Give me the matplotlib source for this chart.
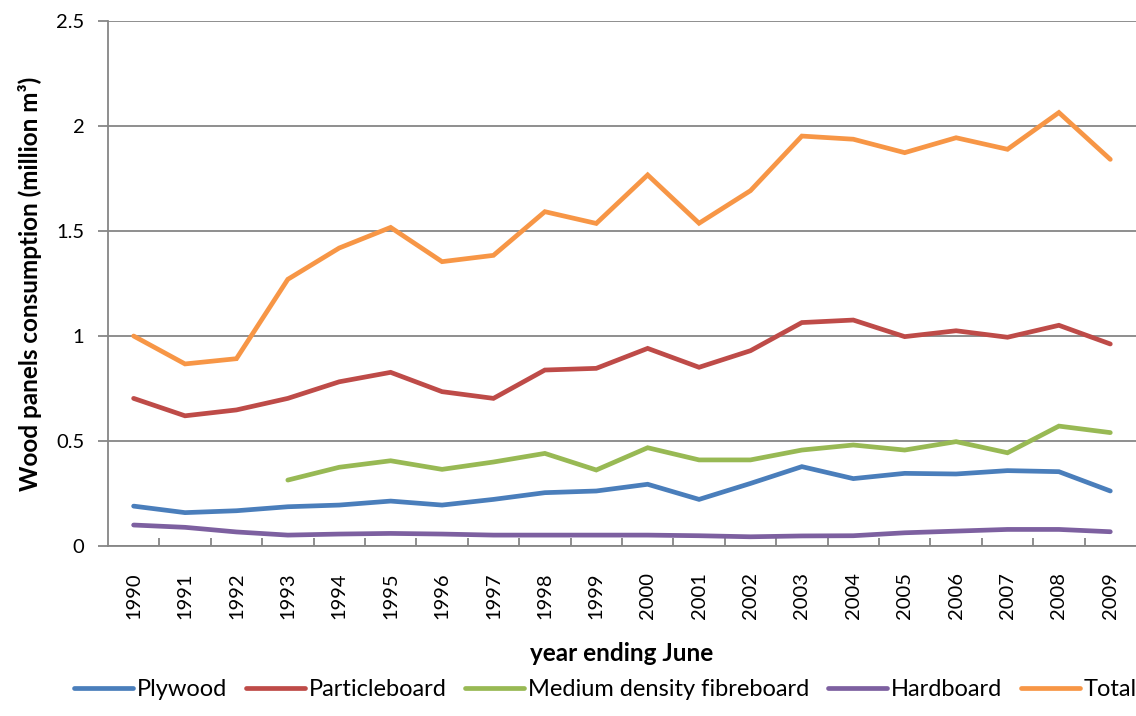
import numpy as np
import matplotlib.pyplot as plt

plt.rcParams['font.family'] = ['Lato', 'DejaVu Sans']

years = [str(y) for y in range(1990, 2010)]

plywood = [0.19, 0.159, 0.168, 0.187, 0.195, 0.214, 0.195, 0.222, 0.254, 0.262,
           0.294, 0.222, 0.298, 0.378, 0.321, 0.346, 0.343, 0.359, 0.354, 0.262]
particleboard = [0.703, 0.62, 0.648, 0.703, 0.782, 0.827, 0.735, 0.703, 0.838, 0.846,
                 0.941, 0.851, 0.93, 1.064, 1.076, 0.997, 1.025, 0.994, 1.051, 0.962]
# MDF figures start in 1993
mdf = [np.nan, np.nan, np.nan, 0.314, 0.375, 0.406, 0.365, 0.4, 0.441, 0.362,
       0.468, 0.41, 0.41, 0.457, 0.481, 0.457, 0.497, 0.444, 0.571, 0.54]
hardboard = [0.1, 0.089, 0.067, 0.052, 0.057, 0.06, 0.057, 0.052, 0.052, 0.052,
             0.052, 0.049, 0.044, 0.048, 0.049, 0.063, 0.071, 0.079, 0.079, 0.068]
total = [1.0, 0.867, 0.892, 1.27, 1.419, 1.517, 1.354, 1.384, 1.592, 1.536,
         1.767, 1.537, 1.692, 1.952, 1.937, 1.873, 1.944, 1.889, 2.064, 1.841]

series = [
    ("Plywood", plywood, "#4A7EBB"),
    ("Particleboard", particleboard, "#BE4B48"),
    ("Medium density fibreboard", mdf, "#98B954"),
    ("Hardboard", hardboard, "#7D60A0"),
    ("Total", total, "#F79646"),
]

fig = plt.figure(figsize=(11.36, 7.16), dpi=100)
ax = fig.add_axes([0.095, 0.2374, 0.905, 0.7333])

x = np.arange(len(years))
for name, vals, col in series:
    ax.plot(x, vals, color=col, lw=3.4, label=name, solid_capstyle='round',
            solid_joinstyle='miter')

grid_col = "#868686"
ax.set_ylim(0, 2.5)
ax.set_yticks([0, 0.5, 1, 1.5, 2, 2.5])
ax.set_yticklabels(["0", "0.5", "1", "1.5", "2", "2.5"])
ax.set_xlim(-0.5, len(years) - 0.5)
ax.set_xticks(x)
ax.set_xticklabels(years, rotation=90)
ax.set_xticks(np.arange(0.5, len(years) - 0.5, 1), minor=True)

ax.yaxis.grid(True, color=grid_col, lw=1.3)
ax.set_axisbelow(True)
for s in ["top", "right"]:
    ax.spines[s].set_visible(False)
for s in ["left", "bottom"]:
    ax.spines[s].set_color(grid_col)
    ax.spines[s].set_linewidth(1.3)

ax.tick_params(axis='y', length=7, width=1.3, color=grid_col, labelsize=14.5, pad=10)
ax.tick_params(axis='x', which='major', length=0, labelsize=14.5, pad=19)
ax.tick_params(axis='x', which='minor', direction='in', length=6, width=1.3, color=grid_col)

ax.set_ylabel("Wood panels consumption (million m³)", fontsize=17.5,
              fontweight='bold', labelpad=10)
ax.set_xlabel("year ending June", fontsize=17.5, fontweight='bold', labelpad=16)

fig.legend(loc='lower center', bbox_to_anchor=(0.533, -0.008), ncol=5,
           frameon=False, fontsize=17, handlelength=2.5, handletextpad=0.15,
           columnspacing=0.8)

fig.savefig("out.png", dpi=100)
